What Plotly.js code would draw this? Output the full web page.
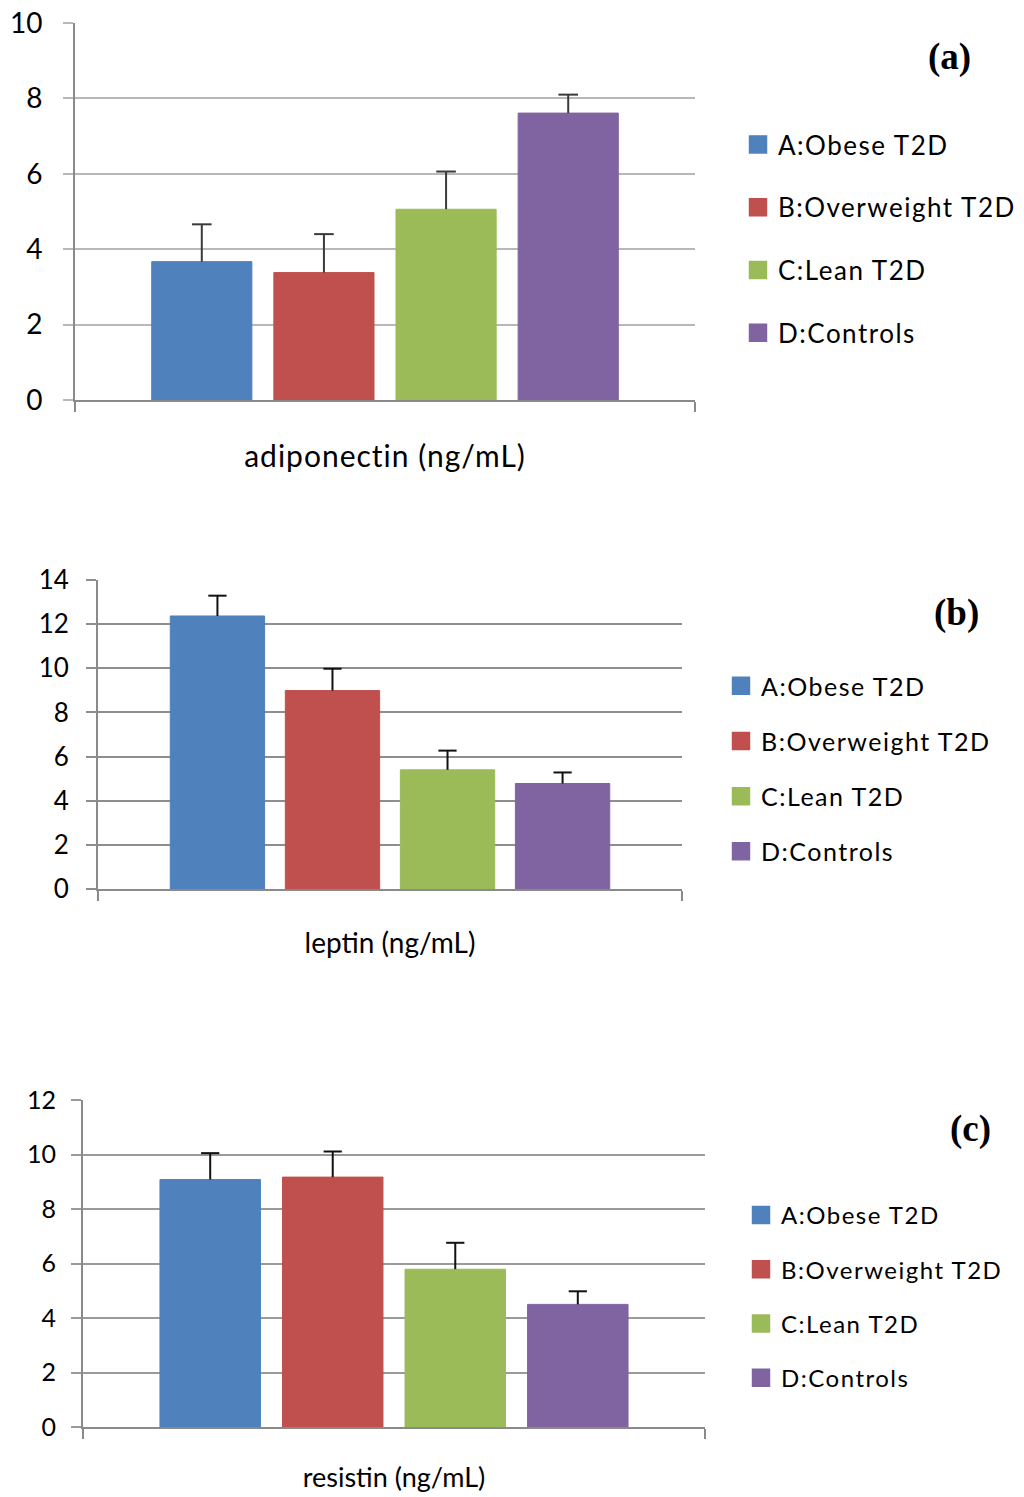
<!DOCTYPE html>
<html>
<head>
<meta charset="utf-8">
<script src="https://cdn.plot.ly/plotly-3.0.1.min.js"></script>
<style>
html,body{margin:0;padding:0;background:#fff;}
#chart{width:1024px;height:1497px;}
#chart .legendpoints path{transform:translate(20px,0px) scale(1.42);}
text.legendtext, text[class^="legend"], .infolayer g[class^="legend"] text{letter-spacing:1.5px;}
.xtick text{letter-spacing:1px;}
</style>
</head>
<body>
<div id="chart"></div>
<script>
// ---- data ----
const groups = ['A:Obese T2D', 'B:Overweight T2D', 'C:Lean T2D', 'D:Controls'];
const colors = ['#4F81BD', '#C0504D', '#9BBB59', '#8064A2'];

const adipCategory = ['adiponectin (ng/mL)'];
const adipMeans = [3.67, 3.38, 5.06, 7.61];
const adipErrors = [0.99, 1.02, 1.00, 0.49];

const leptinCategory = ['leptin (ng/mL)'];
const leptinMeans = [12.37, 8.99, 5.40, 4.78];
const leptinErrors = [0.92, 0.99, 0.87, 0.50];

const resistinCategory = ['resistin (ng/mL)'];
const resistinMeans = [9.08, 9.17, 5.79, 4.50];
const resistinErrors = [0.97, 0.94, 0.97, 0.48];

const panelLabels = ['(a)', '(b)', '(c)'];
const yTickValsA = [0, 2, 4, 6, 8, 10];
const yTickValsB = [0, 2, 4, 6, 8, 10, 12, 14];
const yTickValsC = [0, 2, 4, 6, 8, 10, 12];

// ---- build ----
const W = 1024, H = 1497;
const FONT = 'Lato, Carlito, Calibri, sans-serif';
const px = v => v / W;
const py = v => 1 - v / H;

const panels = [
  {cat: adipCategory, means: adipMeans, errs: adipErrors, ax: '', lg: 'legend', errColor: '#3a3a3a', cap: 14},
  {cat: leptinCategory, means: leptinMeans, errs: leptinErrors, ax: '2', lg: 'legend2', errColor: '#111111', cap: 13},
  {cat: resistinCategory, means: resistinMeans, errs: resistinErrors, ax: '3', lg: 'legend3', errColor: '#111111', cap: 13}
];

const traces = [];
panels.forEach((p, pi) => {
  groups.forEach((g, gi) => {
    traces.push({
      type: 'bar',
      name: g,
      x: p.cat,
      y: [p.means[gi]],
      xaxis: 'x' + p.ax,
      yaxis: 'y' + p.ax,
      legend: p.lg,
      legendgroup: 'p' + pi + 'g' + gi,
      marker: {color: colors[gi], line: {color: colors[gi], width: 1}},
      error_y: {
        type: 'data', symmetric: false,
        array: [p.errs[gi]], arrayminus: [0],
        color: p.errColor, thickness: 2, width: 0
      },
      hoverinfo: 'skip'
    });
  });
  // error-bar caps (upper only), aligned to bars via scattermode group
  groups.forEach((g, gi) => {
    traces.push({
      type: 'scatter',
      mode: 'markers',
      name: g + ' SE',
      x: p.cat,
      y: [p.means[gi] + p.errs[gi]],
      xaxis: 'x' + p.ax,
      yaxis: 'y' + p.ax,
      showlegend: false,
      marker: {symbol: 'line-ew', size: p.cap, line: {width: 2, color: p.errColor}},
      hoverinfo: 'skip'
    });
  });
});

function yAxis(domain, range, tickvals, fontSize, grid, anchor, standoff) {
  return {
    domain: domain, range: range, tickmode: 'array', tickvals: tickvals,
    anchor: anchor, showline: true, linecolor: '#8a8a8a', linewidth: 2,
    ticks: 'outside', ticklen: 10, tickwidth: 2, tickcolor: grid,
    showgrid: true, gridcolor: grid, gridwidth: 2, zeroline: false,
    tickfont: {family: FONT, size: fontSize, color: '#000'},
    ticklabelstandoff: standoff, fixedrange: true
  };
}
function xAxis(domain, fontSize, anchor, standoff) {
  return {
    domain: domain, type: 'category', range: [-0.5, 0.5], anchor: anchor,
    tickson: 'boundaries', ticks: 'outside', ticklen: 10, tickwidth: 2, tickcolor: '#8a8a8a',
    showline: true, linecolor: '#8a8a8a', linewidth: 2, showgrid: false, zeroline: false,
    tickfont: {family: FONT, size: fontSize, color: '#000'},
    ticklabelstandoff: standoff, fixedrange: true
  };
}
function legend(x, y, size, gap) {
  return {
    x: x, y: y, xanchor: 'left', yanchor: 'top', orientation: 'v',
    traceorder: 'grouped', tracegroupgap: gap, itemwidth: 30,
    font: {family: FONT, size: size, color: '#000'}, bgcolor: 'rgba(0,0,0,0)', borderwidth: 0
  };
}

const GAP = 0.212;
const layout = {
  width: W, height: H,
  margin: {l: 0, r: 0, t: 0, b: 0},
  paper_bgcolor: '#fff', plot_bgcolor: '#fff',
  barmode: 'group', bargap: GAP, bargroupgap: 0.18,
  scattermode: 'group', scattergap: GAP,
  xaxis: xAxis([px(75), px(695)], 30, 'y', 29),
  yaxis: yAxis([py(400), py(23)], [0, 10], yTickValsA, 28, '#b8b8b8', 'x', 15),
  xaxis2: xAxis([px(98), px(682)], 28, 'y2', 28),
  yaxis2: yAxis([py(889), py(580)], [0, 14], yTickValsB, 26, '#8e8e8e', 'x2', 12),
  xaxis3: xAxis([px(83), px(705)], 27, 'y3', 26),
  yaxis3: yAxis([py(1427), py(1100)], [0, 12], yTickValsC, 25, '#9a9a9a', 'x3', 10),
  legend: legend(px(738), py(121), 26, 26),
  legend2: legend(px(721), py(663), 25, 19.7),
  legend3: legend(px(741), py(1193), 24, 20),
  annotations: [
    {text: panelLabels[0], x: px(949), y: py(57)},
    {text: panelLabels[1], x: px(956), y: py(613)},
    {text: panelLabels[2], x: px(970), y: py(1129)}
  ].map(a => Object.assign(a, {
    xref: 'paper', yref: 'paper', xanchor: 'center', yanchor: 'middle', showarrow: false,
    font: {family: '"Liberation Serif", "Times New Roman", serif', size: 37, color: '#000', weight: 'bold'}
  })),
  showlegend: true
};

Plotly.newPlot('chart', traces, layout, {staticPlot: true, displayModeBar: false});
</script>
</body>
</html>
